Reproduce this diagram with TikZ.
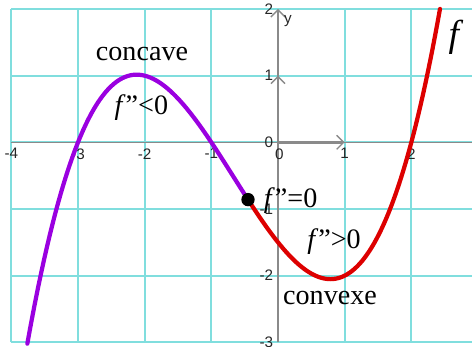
\documentclass[tikz,border=0pt]{standalone}
\usepackage{fontspec}
\setmainfont{Liberation Serif}
\setsansfont{Liberation Sans}
\usetikzlibrary{arrows.meta}
\definecolor{gridcyan}{HTML}{80DEDE}
\definecolor{axisgray}{HTML}{8A8A8A}
\definecolor{concavecol}{HTML}{9A00E0}
\definecolor{convexcol}{HTML}{DD0000}

\begin{document}
\begin{tikzpicture}[x=1cm, y=1cm,
  ticklabel/.style={font=\sffamily\fontsize{6.5}{7}\selectfont, text=black!85, inner sep=1pt},
  curvelabel/.style={font=\fontsize{12}{14}\selectfont, inner sep=0pt},
  unitarrow/.style={axisgray, line width=1.1pt, -{Straight Barb[length=3pt, width=6pt, line width=0.6pt]}},
  dotnode/.style={circle, fill=black, inner sep=0pt, minimum size=0.2cm}]
\useasboundingbox (-4.17,-3.07) rectangle (2.91,2.135);
% grid
\foreach \x in {-4,...,2} {
  \draw[gridcyan, line width=0.8pt] (\x,-3) -- (\x,2);
}
\foreach \y in {-3,...,2} {
  \draw[gridcyan, line width=0.8pt] (-4,\y) -- (2.91,\y);
}
% axes
\coordinate (O) at (0,0);
\coordinate (xend) at (2.91,0);
\coordinate (xstart) at (-4,0);
\coordinate (ybot) at (0,-3);
\coordinate (ytop) at (0,2);
\coordinate (ex) at (1,0);
\coordinate (ey) at (0,1);
\draw[axisgray, line width=0.5pt] (xstart) -- (xend);
\draw[axisgray, line width=0.6pt, -{Straight Barb[length=3pt, width=6pt, line width=0.6pt]}] (ybot) -- (ytop);
\draw[unitarrow] (O) -- (ex);
\draw[unitarrow] (O) -- (ey);
% tick labels
\foreach \x in {-4,-3,-2,-1,1,2} {
  \node[ticklabel, below] (xt\x) at (\x,-0.05) {\x};
}
\foreach \y in {-3,-2,-1,1,2} {
  \node[ticklabel, left] (yt\y) at (-0.03,\y) {\y};
}
\node[ticklabel, left] (zl) at (-0.03,0) {0};
\node[ticklabel, below] (zb) at (0.02,-0.05) {0};
\node[ticklabel, anchor=north west] (ylab) at (0.05,1.95) {y};
% the curve
\draw[concavecol, line width=1.8pt, line cap=round]
  plot[domain=-3.76:-0.45, samples=80] (\x,{0.25*(\x+3)*(\x+1)*(\x-2)});
\draw[convexcol, line width=1.8pt, line cap=round]
  plot[domain=-0.45:2.43, samples=80] (\x,{0.25*(\x+3)*(\x+1)*(\x-2)});
\node[dotnode] (infl) at (-0.45,-0.859) {};
% labels
\node[curvelabel] (concave) at (-2.04,1.33) {concave};
\node[curvelabel] (fneg) at (-2.05,0.52) {\textit{f}”<0};
\node[curvelabel] (fzero) at (0.19,-0.88) {\textit{f}”=0};
\node[curvelabel] (fpos) at (0.84,-1.49) {\textit{f}”>0};
\node[curvelabel] (convexe) at (0.78,-2.33) {convexe};
\node[font=\fontsize{16}{18}\selectfont, inner sep=0pt] (fname) at (2.67,1.58) {\textit{f}};
\end{tikzpicture}
\end{document}
